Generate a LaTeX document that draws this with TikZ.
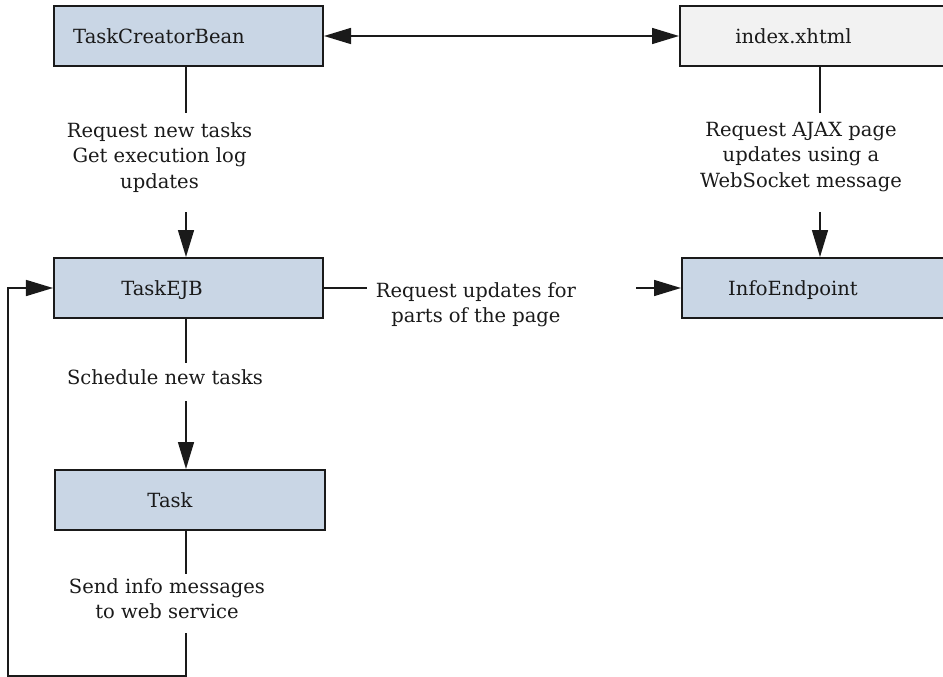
\documentclass[tikz,border=0pt]{standalone}
\usepackage{fontspec}
\setmainfont{DejaVu Serif}
\usetikzlibrary{arrows.meta,calc}
\definecolor{boxblue}{HTML}{C9D6E5}
\definecolor{boxgray}{HTML}{F2F2F2}
\definecolor{ink}{HTML}{1A1A1A}
\begin{document}
\begin{tikzpicture}[x=1bp,y=-1bp,
  font={\fontsize{19.6}{25.6}\selectfont},
  box/.style={draw=ink, line width=2bp, minimum width=269bp, minimum height=60bp, inner sep=0pt},
  conn/.style={draw=ink, line width=1.5bp},
  arr/.style={conn, -{Triangle[length=27bp,width=16bp]}},
  lbl/.style={align=center, inner sep=0pt, text=ink}]
\useasboundingbox (0,0) rectangle (943,677);
% boxes
\node[box, fill=boxblue] (tcb) at (188.5,36) {};
\node[lbl, anchor=base] (tcbt) at (159,43.3) {TaskCreatorBean};
\node[box, fill=boxgray, minimum width=290bp] (idx) at (825,36) {};
\node[lbl, anchor=base] (idxt) at (793.5,43.3) {index.xhtml};
\node[box, fill=boxblue] (ejb) at (188.5,288) {};
\node[lbl, anchor=base] (ejbt) at (162,295) {TaskEJB};
\node[box, fill=boxblue, minimum width=290bp] (ie) at (827,288) {};
\node[lbl, anchor=base] (iet) at (793,295) {InfoEndpoint};
\node[box, fill=boxblue, minimum width=270bp] (task) at (190,500) {};
\node[lbl, anchor=base] (taskt) at (170,507) {Task};
% labels
\node[lbl, anchor=north] (l1) at (159.5,122) {Request new tasks\\Get execution log\\updates};
\node[lbl, anchor=north] (l2) at (801,122) {Request AJAX page\\updates using a\\WebSocket message};
\node[lbl, anchor=north] (l3) at (476,282) {Request updates for\\parts of the page};
\node[lbl, anchor=north] (l4) at (165,369.5) {Schedule new tasks};
\node[lbl, anchor=north] (l5) at (167,578) {Send info messages\\to web service};
% helper coordinates
\coordinate (cL) at (186,0);
\coordinate (cR) at (820,0);
\coordinate (loopR) at (186,676);
\coordinate (loopL) at (8,676);
% connectors
\draw[conn, {Triangle[length=27bp,width=16bp]}-{Triangle[length=27bp,width=16bp]}] (tcb.east) -- (idx.west);
\draw[conn, shorten >=9bp] (tcb.south -| cL) -- (l1.north -| cL);
\draw[arr, shorten <=20bp] (l1.south -| cL) -- (ejb.north -| cL);
\draw[conn, shorten >=9bp] (idx.south -| cR) -- (l2.north -| cR);
\draw[arr, shorten <=20bp] (l2.south -| cR) -- (ie.north -| cR);
\draw[conn, shorten >=9bp] (ejb.east) -- (l3.west |- ejb.east);
\draw[arr, shorten <=60bp] (l3.east |- ie.west) -- (ie.west);
\draw[conn, shorten >=7bp] (ejb.south -| cL) -- (l4.north -| cL);
\draw[arr, shorten <=16bp] (l4.south -| cL) -- (task.north -| cL);
\draw[conn, shorten >=4bp] (task.south -| cL) -- (l5.north -| cL);
\draw[arr, shorten <=14bp] (l5.south -| cL) -- (loopR) -- (loopL) |- (ejb.west);
\end{tikzpicture}
\end{document}
